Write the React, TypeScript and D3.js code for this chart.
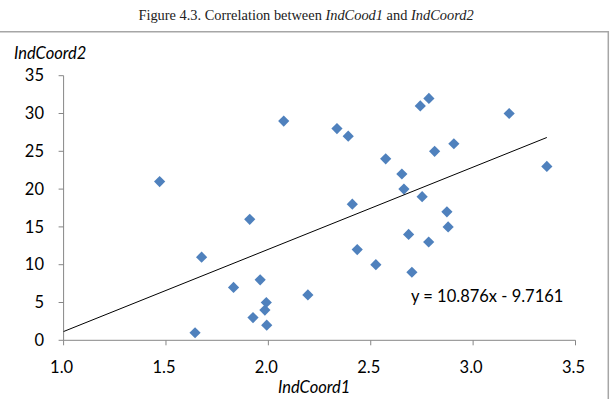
import React from "react";
import * as d3 from "d3";

const xValues = [1.469, 1.642, 1.674, 1.83, 1.909, 1.925, 1.96, 1.983, 1.99, 1.992, 2.075, 2.193, 2.335, 2.39, 2.41, 2.434, 2.525, 2.573, 2.652, 2.662, 2.685, 2.701, 2.742, 2.751, 2.783, 2.784, 2.812, 2.872, 2.878, 2.906, 3.176, 3.36];
const yValues = [21, 1, 11, 7, 16, 3, 8, 4, 5, 2, 29, 6, 28, 27, 18, 12, 10, 24, 22, 20, 14, 9, 31, 19, 13, 32, 25, 17, 15, 26, 30, 23];
const xTicks = [1.0, 1.5, 2.0, 2.5, 3.0, 3.5];
const yTicks = [0, 5, 10, 15, 20, 25, 30, 35];
const trendSlope = 10.876;
const trendIntercept = -9.7161;
const trendLabel = "y = 10.876x - 9.7161";
const xTitle = "IndCoord1";
const yTitle = "IndCoord2";

export default function App() {
  const W = 612, H = 399;
  const x = d3.scaleLinear().domain([1, 3.5]).range([63.6, 575.5]);
  const y = d3.scaleLinear().domain([0, 35]).range([340.3, 75.7]);
  const axisColor = "#868686";
  const font = "Lato, 'Open Sans', sans-serif";
  const xMin = 1.0;
  const xMax = d3.max(xValues) as number;
  const line = d3.line<number>().x((d) => x(d)).y((d) => y(trendSlope * d + trendIntercept));
  const diamond = d3.symbol().type(d3.symbolDiamond2 || d3.symbolDiamond).size(80)();

  return (
    <svg width={W} height={H} style={{ position: "absolute", left: 0, top: 0, background: "#fff" }}>
      <rect x={0} y={0} width={W} height={H} fill="#fff" />
      <text x={306} y={20} textAnchor="middle" fontFamily="'Liberation Serif', 'Times New Roman', serif" fontSize={14.4} fill="#222">
        Figure 4.3. Correlation between <tspan fontStyle="italic">IndCood1</tspan> and <tspan fontStyle="italic">IndCoord2</tspan>
      </text>
      {/* frame */}
      <path d={`M0,31.7 H608.3 V${H}`} fill="none" stroke="#a6a6a6" strokeWidth={1.5} />
      {/* axes */}
      <line x1={x(1)} x2={x(1)} y1={y(35)} y2={y(0)} stroke={axisColor} strokeWidth={1} />
      <line x1={x(1)} x2={x(3.5)} y1={y(0)} y2={y(0)} stroke={axisColor} strokeWidth={1} />
      {yTicks.map((t) => (
        <g key={"y" + t}>
          <line x1={x(1) - 5} x2={x(1)} y1={y(t)} y2={y(t)} stroke={axisColor} />
          <text x={44} y={y(t)} dy="0.35em" textAnchor="end" fontFamily={font} fontSize={16.5} fill="#000">
            {t}
          </text>
        </g>
      ))}
      {xTicks.map((t) => (
        <g key={"x" + t}>
          <line x1={x(t)} x2={x(t)} y1={y(0)} y2={y(0) + 5} stroke={axisColor} />
          <text x={x(t) - 2} y={373} textAnchor="middle" fontFamily={font} fontSize={16.5} fill="#000">
            {d3.format(".1f")(t)}
          </text>
        </g>
      ))}
      <text x={14} y={59} fontFamily={font} fontStyle="italic" fontSize={16.5} fill="#000">{yTitle}</text>
      <text x={278} y={393} fontFamily={font} fontStyle="italic" fontSize={16.5} fill="#000">{xTitle}</text>
      {/* points */}
      {xValues.map((xv, i) => (
        <path key={i} d={diamond as string} transform={`translate(${x(xv)},${y(yValues[i])})`} fill="#4F81BD" />
      ))}
      {/* trendline */}
      <path d={line([xMin, xMax]) as string} fill="none" stroke="#000" strokeWidth={1} />
      <text x={411} y={301.7} fontFamily={font} fontSize={16.5} fill="#000">{trendLabel}</text>
    </svg>
  );
}
